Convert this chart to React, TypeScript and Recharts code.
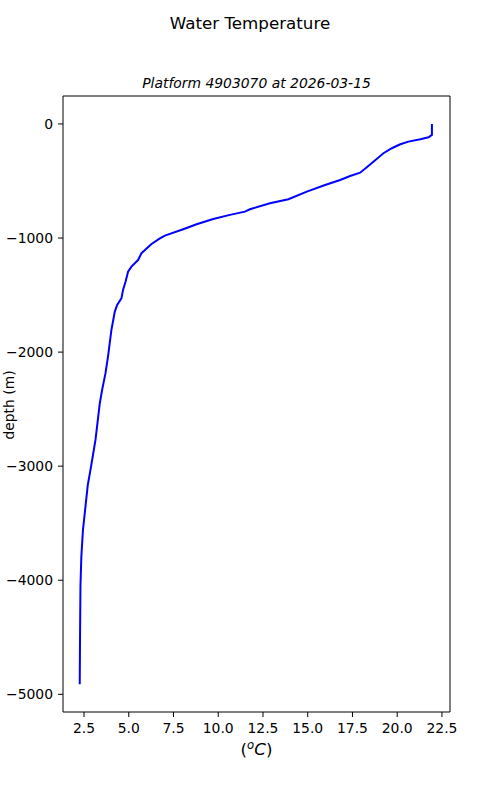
import { type FC } from "react";
import {
  LineChart,
  Line,
  XAxis,
  YAxis,
  ReferenceLine,
} from "recharts";

// profile, top to bottom
const temperature = [
  21.94, 21.94, 21.75, 21.29, 20.63, 20.17, 19.7, 19.23, 18.67, 18.3, 17.93,
  17.37, 16.81, 15.97, 14.95, 13.92, 12.89, 11.77, 11.49, 10.65, 9.72, 8.79,
  8.04, 7.02, 6.74, 6.27, 5.71, 5.52, 5.15, 4.96, 4.82, 4.68, 4.59, 4.35, 4.22,
  4.03, 3.84, 3.7, 3.51, 3.38, 3.14, 3.0, 2.86, 2.71, 2.6, 2.44, 2.35, 2.3,
  2.28, 2.26,
];
const depth = [
  0, -96, -117, -134, -155, -178, -213, -257, -331, -380, -427, -456, -491,
  -535, -593, -660, -695, -748, -769, -797, -833, -879, -923, -979, -1003,
  -1052, -1133, -1193, -1251, -1295, -1383, -1455, -1529, -1587, -1645, -1806,
  -2040, -2185, -2332, -2449, -2770, -2902, -3033, -3165, -3326, -3560, -3793,
  -4057, -4436, -4912,
];
const xTicks = [2.5, 5, 7.5, 10, 12.5, 15, 17.5, 20, 22.5];
const yTicks = [-5000, -4000, -3000, -2000, -1000, 0];

const X_MIN = 1.325;
const X_MAX = 22.95;
const Y_MIN = -5155;
const Y_MAX = 245;

const FONT = "DejaVu Sans";

const fmtDepth = (v: number) => (v < 0 ? `\u2212${Math.abs(v)}` : `${v}`);

const XTick: FC<any> = ({ x, y, payload }) => (
  <text x={x} y={y} dy={10.5} textAnchor="middle" fontSize={13.9} fontFamily={FONT} fill="#000">
    {Number(payload.value).toFixed(1)}
  </text>
);

const YTick: FC<any> = ({ x, y, payload }) => (
  <text x={x} y={y} dy={5} textAnchor="end" fontSize={13.9} fontFamily={FONT} fill="#000">
    {fmtDepth(payload.value)}
  </text>
);

const App: FC = () => {
  const data = temperature.map((t, i) => ({ temp: t, depth: depth[i] }));

  return (
    <div style={{ position: "absolute", left: 0, top: 0, width: 500, height: 800, background: "#fff" }}>
      <LineChart
        width={500}
        height={800}
        data={data}
        margin={{ top: 96, right: 50, bottom: 48, left: 3 }}
      >
        <XAxis
          dataKey="temp"
          type="number"
          domain={[X_MIN, X_MAX]}
          allowDataOverflow
          ticks={xTicks}
          height={40}
          tickSize={5}
          tickMargin={5}
          stroke="#000"
          tick={<XTick />}
        />
        <YAxis
          type="number"
          domain={[Y_MIN, Y_MAX]}
          allowDataOverflow
          ticks={yTicks}
          width={60}
          tickSize={5}
          tickMargin={5}
          stroke="#000"
          tick={<YTick />}
        />
        <ReferenceLine y={Y_MAX} stroke="#000" strokeWidth={1} />
        <ReferenceLine x={X_MAX} stroke="#000" strokeWidth={1} />
        <Line
          dataKey="depth"
          type="linear"
          stroke="#0000ff"
          strokeWidth={2}
          dot={false}
          isAnimationActive={false}
        />
      </LineChart>
      <svg
        width={500}
        height={800}
        style={{ position: "absolute", left: 0, top: 0, pointerEvents: "none" }}
        fontFamily={FONT}
      >
        <text x={250} y={29} textAnchor="middle" fontSize={16.7} fill="#000">
          Water Temperature
        </text>
        <text x={256.5} y={88} textAnchor="middle" fontSize={13.9} fontStyle="italic" fill="#000">
          Platform 4903070 at 2026-03-15
        </text>
        <text x={256.5} y={755} textAnchor="middle" fontSize={16.7} fill="#000">
          (
          <tspan fontStyle="italic" fontSize={11.7} dy={-6}>
            o
          </tspan>
          <tspan fontStyle="italic" fontSize={16.7} dy={6}>
            C
          </tspan>
          )
        </text>
        <text
          x={0}
          y={0}
          transform="translate(13.5 405) rotate(-90)"
          textAnchor="middle"
          fontSize={13.9}
          fill="#000"
        >
          depth (m)
        </text>
      </svg>
    </div>
  );
};

export default App;
